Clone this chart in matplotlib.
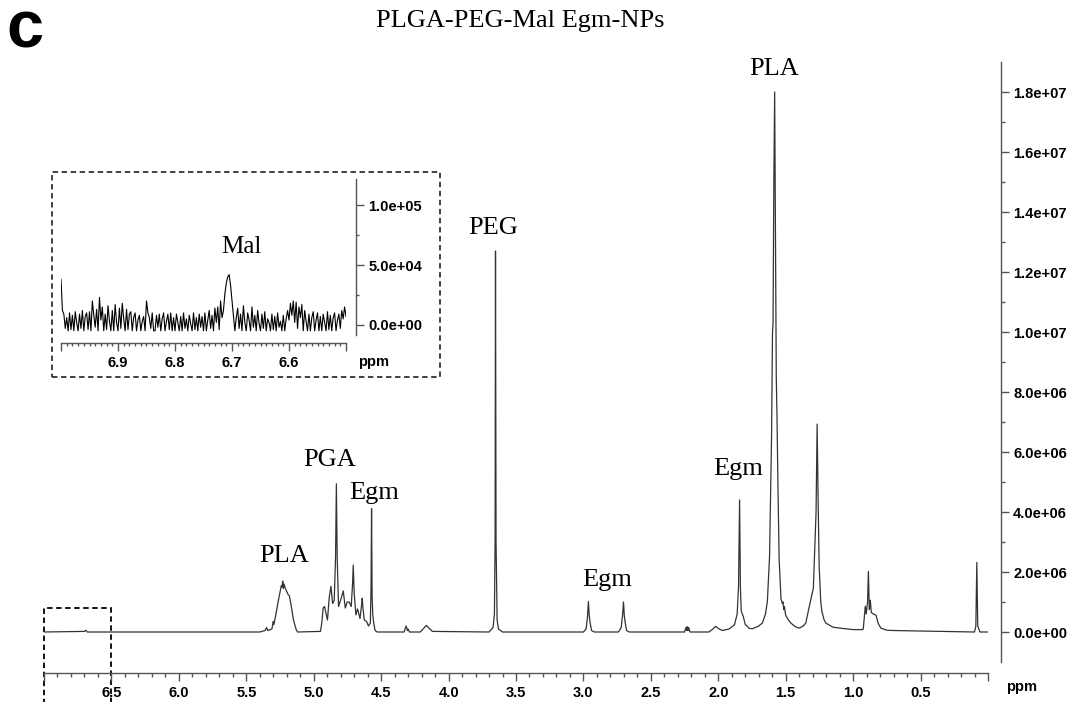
"""1H NMR of PLGA-PEG-Mal Egm-NPs with the maleimide region zoomed in an inset."""

import matplotlib
matplotlib.use("Agg")
import matplotlib.pyplot as plt
import numpy as np
from matplotlib.patches import Rectangle
from matplotlib.ticker import FixedLocator, FuncFormatter, MultipleLocator

# %% data (ppm, intensity in units of 1e6)
ppm_main = [
    7.00, 6.70, 6.69, 6.68, 5.40, 5.36, 5.35, 5.34, 5.31, 5.30, 5.295, 5.28,
    5.26, 5.245, 5.24, 5.235, 5.23, 5.225, 5.22, 5.21, 5.20, 5.19, 5.18, 5.17,
    5.15, 5.13, 5.12,
    4.95, 4.94, 4.93, 4.92, 4.91, 4.898, 4.885, 4.872, 4.86, 4.848, 4.838,
    4.832, 4.826, 4.816, 4.798, 4.781, 4.766, 4.752, 4.737, 4.722, 4.712,
    4.707, 4.70, 4.687, 4.675, 4.657, 4.645, 4.64, 4.635, 4.625, 4.608, 4.594,
    4.58, 4.575, 4.571, 4.567, 4.562, 4.555, 4.545, 4.53,
    4.33, 4.315, 4.305, 4.30, 4.29, 4.21, 4.18, 4.165, 4.15, 4.12,
    3.70, 3.67, 3.66, 3.655, 3.652, 3.648, 3.64, 3.63, 3.60,
    3.00, 2.98, 2.97, 2.963, 2.957, 2.95, 2.94, 2.92,
    2.74, 2.72, 2.71, 2.703, 2.697, 2.69, 2.68, 2.66,
    2.25, 2.24, 2.235, 2.23, 2.225, 2.22, 2.21,
    2.07, 2.04, 2.02, 2.00, 1.97, 1.92, 1.88, 1.86, 1.85, 1.842, 1.836, 1.83,
    1.815, 1.80, 1.77, 1.747, 1.70, 1.673, 1.65, 1.636, 1.62, 1.605, 1.598,
    1.594, 1.588, 1.582, 1.576, 1.570, 1.565, 1.558, 1.549, 1.535, 1.525,
    1.52, 1.515, 1.51, 1.50, 1.48, 1.462, 1.43, 1.40, 1.37, 1.351, 1.33,
    1.314, 1.295, 1.283, 1.275, 1.267, 1.26, 1.252, 1.24, 1.232, 1.215, 1.203,
    1.15, 1.10, 1.00, 0.93, 0.925, 0.915, 0.91, 0.903, 0.893, 0.887, 0.88,
    0.873, 0.865, 0.85, 0.83, 0.815, 0.795, 0.75, 0.71,
    0.10, 0.09, 0.083, 0.076, 0.06, 0.00,
]
int_main = [
    0.0, 0.02, 0.06, 0.0, 0.0, 0.05, 0.15, 0.05, 0.1, 0.35, 0.25, 0.6,
    1.1, 1.45, 1.55, 1.5, 1.70, 1.45, 1.6, 1.45, 1.35, 1.25, 1.2, 0.95,
    0.4, 0.08, 0.0,
    0.02, 0.3, 0.8, 0.85, 0.65, 0.4, 1.15, 1.52, 0.95, 1.05, 2.5,
    4.94, 2.5, 0.85, 1.1, 1.37, 0.8, 1.0, 1.0, 0.85, 1.6,
    2.23, 1.3, 0.57, 0.77, 0.45, 0.9, 1.13, 0.8, 0.4, 0.35, 0.2,
    0.3, 1.5, 4.11, 1.2, 0.57, 0.3, 0.05, 0.0,
    0.0, 0.2, 0.05, 0.1, 0.0, 0.0, 0.15, 0.22, 0.15, 0.02,
    0.0, 0.15, 0.6, 3.0, 12.7, 3.0, 0.4, 0.1, 0.0,
    0.0, 0.1, 0.5, 1.02, 0.55, 0.3, 0.05, 0.0,
    0.0, 0.15, 0.55, 1.0, 0.55, 0.3, 0.05, 0.0,
    0.0, 0.15, 0.05, 0.18, 0.05, 0.15, 0.0,
    0.0, 0.1, 0.19, 0.12, 0.05, 0.1, 0.24, 0.6, 1.5, 4.4, 1.5, 0.7,
    0.52, 0.25, 0.12, 0.11, 0.2, 0.3, 0.6, 1.02, 2.5, 6.5, 10.0,
    10.3, 15.0, 18.0, 13.0, 8.5, 7.3, 5.0, 2.45, 1.1, 0.95,
    1.0, 0.75, 0.85, 0.55, 0.4, 0.3, 0.18, 0.13, 0.2, 0.3, 0.75,
    1.07, 1.46, 3.0, 4.0, 6.93, 4.5, 2.2, 1.0, 0.69, 0.4, 0.3,
    0.16, 0.13, 0.08, 0.08, 0.1, 0.6, 0.86, 0.6, 1.0, 2.02, 0.75,
    1.06, 0.65, 0.6, 0.56, 0.3, 0.13, 0.06, 0.05,
    0.0, 0.2, 2.32, 0.2, 0.0, 0.0,
]

# inset: 7.00 -> 6.50 ppm, intensity in units of 1e4
inset_lo, inset_hi = 7.0, 6.5
int_inset = [
    3.8, 1.2, 0.9, -0.3, 0.6, -0.5, 1.0, -0.4, 0.8, -0.5, 1.1, 0.2, -0.5, 0.9, -0.3, 1.2, -0.5, 0.7, 1.0, -0.4,
    1.1, -0.5, 2.0, 0.8, -0.2, 1.3, -0.5, 2.3, 0.4, 1.5, -0.5, 0.9, -0.4, 1.6, 0.3, -0.5, 1.2, -0.5, 1.7, 0.2,
    -0.5, 1.4, -0.3, 1.8, 0.5, -0.5, 1.3, -0.4, 0.9, 1.1, -0.5, 0.6, 1.0, -0.5, 0.4, 0.8, -0.5, 0.3, 0.7, -0.5,
    2.0, 1.0, 0.6, -0.3, 1.0, -0.5, -0.5, 0.8, -0.2, 0.9, -0.5, 0.5, 1.0, -0.5, 0.3, 0.9, -0.4, 1.0, -0.5, 0.6,
    -0.5, 0.9, 0.2, -0.5, 0.7, -0.5, 1.0, -0.3, 0.5, -0.5, 0.8, 0.1, -0.5, 1.0, -0.4, 0.6, -0.5, 0.9, -0.2, 0.7,
    -0.5, 1.0, -0.5, 0.4, 1.2, -0.3, 0.8, -0.5, 1.4, 0.2, 1.5, -0.4, 2.0, 0.6, 1.2, 2.6, 3.5, 4.0, 4.2, 3.3,
    2.0, 0.8, -0.5, 0.6, 1.4, -0.3, 0.9, -0.5, 1.6, 0.2, -0.5, 1.0, 0.4, -0.5, 1.5, -0.2, 0.8, -0.5, 1.2, 0.1,
    -0.5, 0.9, -0.3, 1.1, -0.5, 0.5, 0.2, -0.5, 0.9, -0.4, 0.7, -0.5, 1.0, -0.2, 0.3, -0.5, 0.8, -0.5, 0.5, 1.2,
    0.4, 1.8, 0.8, 2.0, 0.2, 1.9, -0.3, 1.5, 0.6, 1.7, -0.5, 1.2, 0.3, -0.5, 0.9, -0.5, 0.6, 1.1, -0.5, 0.4,
    1.0, -0.5, 0.7, -0.5, 0.9, 0.2, -0.5, 1.1, -0.4, 0.8, -0.5, 0.6, 1.0, -0.5, 0.4, 0.9, -0.3, 1.2, 0.5, 1.5, 0.7,
]

# peak labels: (text, ppm, intensity 1e6)
labels_main = [
    ("PLA", 1.586, 18.77), ("PEG", 3.67, 13.47), ("PGA", 4.885, 5.74),
    ("Egm", 4.551, 4.64), ("PLA", 5.221, 2.52), ("Egm", 2.824, 1.72),
    ("Egm", 1.853, 5.44),
]

SANS = "Liberation Sans"
SERIF = "Liberation Serif"
LINE = "#333333"
AXC = "#555555"
TICK_FS = 10.5

# %%
fig = plt.figure(figsize=(10.7, 7.02), dpi=100)
W, H = 1070, 702


def px_axes(x0, y0, x1, y1):
    return fig.add_axes([x0 / W, 1 - y1 / H, (x1 - x0) / W, (y1 - y0) / H])


def style_axes(a, yoff, xoff):
    a.spines["top"].set_visible(False)
    a.spines["left"].set_visible(False)
    a.spines["right"].set_position(("outward", yoff))
    a.spines["bottom"].set_position(("outward", xoff))
    for s in ("right", "bottom"):
        a.spines[s].set_color(AXC)
        a.spines[s].set_linewidth(1.0)
    a.yaxis.tick_right()
    a.tick_params(which="both", direction="out", color=AXC, width=1.0)
    a.tick_params(which="major", length=6, pad=3, labelsize=TICK_FS)
    a.tick_params(which="minor", length=3)
    for lab in a.get_xticklabels() + a.get_yticklabels():
        lab.set_fontfamily(SANS)
        lab.set_fontweight("bold")


sci = FuncFormatter(lambda v, _: f"{v:.1e}")

# main spectrum
ax = px_axes(44, 62, 988, 662)
ax.plot(ppm_main, np.array(int_main) * 1e6, color=LINE, lw=0.9)
ax.set_xlim(7.0, 0.0)
ax.set_ylim(-1e6, 1.9e7)
ax.xaxis.set_major_locator(FixedLocator(np.arange(0, 7.01, 0.5)))
ax.xaxis.set_major_formatter(FuncFormatter(lambda v, _: "" if v < 0.2 or v > 6.8 else f"{v:.1f}"))
ax.xaxis.set_minor_locator(MultipleLocator(0.1))
ax.yaxis.set_major_locator(FixedLocator(np.arange(0, 1.81e7, 2e6)))
ax.yaxis.set_minor_locator(FixedLocator(np.arange(1e6, 1.9e7, 2e6)))
ax.yaxis.set_major_formatter(sci)
style_axes(ax, 9, 8)

for txt, x, y in labels_main:
    ax.text(x, y * 1e6, txt, family=SERIF, fontsize=19, ha="center", va="center")

# dashed box marking the zoomed region
ax.add_patch(Rectangle((7.0, -2.4e6), -0.5, 3.2e6, fill=False, ls=(0, (3, 2)),
                       lw=1.3, color="black", clip_on=False))

# inset
axi = px_axes(61, 179, 346, 335)
axi.plot(np.linspace(inset_lo, inset_hi, len(int_inset)), np.array(int_inset) * 1e4,
         color="black", lw=0.8)
axi.set_xlim(inset_lo, inset_hi)
axi.set_ylim(-8.5e3, 1.22e5)
axi.xaxis.set_major_locator(FixedLocator(np.arange(6.5, 7.01, 0.1)))
axi.xaxis.set_major_formatter(FuncFormatter(lambda v, _: "" if v < 6.55 or v > 6.95 else f"{v:.1f}"))
axi.xaxis.set_minor_locator(MultipleLocator(0.01))
axi.yaxis.set_major_locator(FixedLocator([0, 5e4, 1e5]))
axi.yaxis.set_minor_locator(FixedLocator([2.5e4, 7.5e4]))
axi.yaxis.set_major_formatter(sci)
axi.patch.set_alpha(0)
style_axes(axi, 7, 6)
axi.tick_params(which="minor", length=2)
axi.text(6.684, 6.5e4, "Mal", family=SERIF, fontsize=18, ha="center", va="center")

fig.add_artist(Rectangle((52 / W, 1 - 377 / H), 388 / W, 205 / H, transform=fig.transFigure,
                         fill=False, ls=(0, (3, 2)), lw=1.3, color="#333333"))

# axis units, title, panel letter
fig.text(1022 / W, 1 - 687 / H, "ppm", family=SANS, weight="bold", fontsize=TICK_FS, ha="center", va="center")
fig.text(374 / W, 1 - 362 / H, "ppm", family=SANS, weight="bold", fontsize=TICK_FS, ha="center", va="center")
fig.text(520 / W, 1 - 21 / H, "PLGA-PEG-Mal Egm-NPs", family=SERIF, fontsize=19, ha="center", va="center")
fig.text(25 / W, 1 - 30 / H, "c", family=SANS, weight="bold", fontsize=48, ha="center", va="center")

fig.savefig("out.png", dpi=100)
